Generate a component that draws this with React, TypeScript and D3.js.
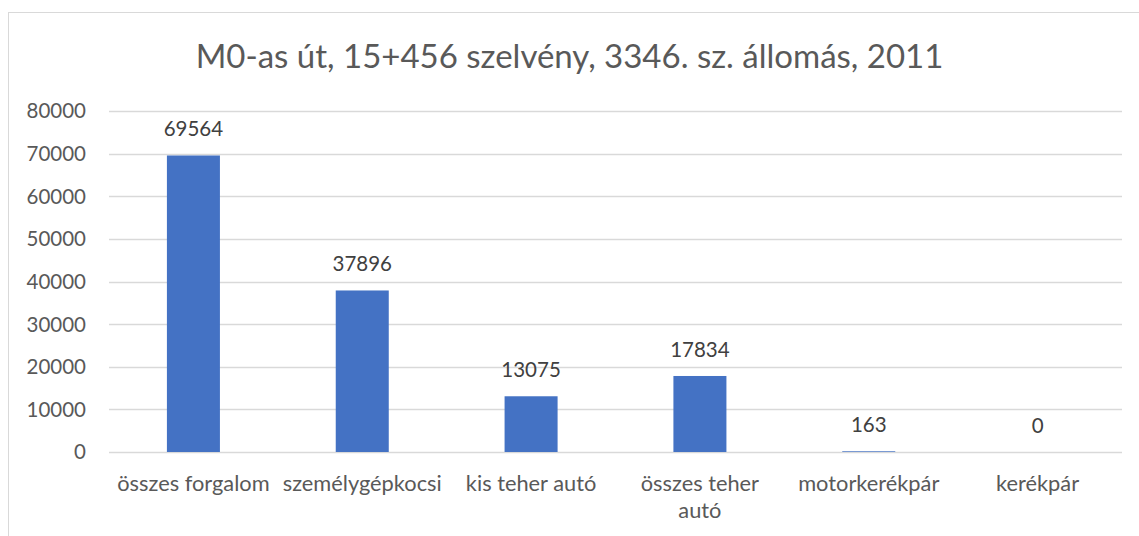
import React, { useEffect, useRef } from 'react';
import * as d3 from 'd3';

const categories = [
  'összes forgalom',
  'személygépkocsi',
  'kis teher autó',
  'összes teher autó',
  'motorkerékpár',
  'kerékpár',
];
const values = [69564, 37896, 13075, 17834, 163, 0];
const yTicks = [0, 10000, 20000, 30000, 40000, 50000, 60000, 70000, 80000];
const title = 'M0-as út, 15+456 szelvény, 3346. sz. állomás, 2011';

const App: React.FC = () => {
  const svgRef = useRef<SVGSVGElement | null>(null);

  useEffect(() => {
    const width = 1139;
    const height = 536;
    const margin = { top: 111, right: 17, bottom: 84, left: 109 };
    const font = 'Lato, "Open Sans", sans-serif';

    const svg = d3.select(svgRef.current)
      .attr('width', width)
      .attr('height', height);

    svg.selectAll('*').remove();

    // chart area border
    svg.append('rect')
      .attr('x', 8.5)
      .attr('y', 12.5)
      .attr('width', width)
      .attr('height', height)
      .attr('fill', '#fff')
      .attr('stroke', '#d9d9d9');

    const xScale = d3.scaleBand<string>()
      .domain(categories)
      .range([margin.left, width - margin.right])
      .paddingInner(0.686)
      .paddingOuter(0.343);

    const yScale = d3.scaleLinear()
      .domain([0, 80000])
      .range([height - margin.bottom, margin.top]);

    // title
    svg.append('text')
      .attr('x', width / 2)
      .attr('y', 68)
      .attr('text-anchor', 'middle')
      .attr('font-family', font)
      .attr('font-size', 33)
      .attr('fill', '#595959')
      .text(title);

    // gridlines
    svg.append('g')
      .selectAll('line')
      .data(yTicks)
      .join('line')
      .attr('x1', margin.left)
      .attr('x2', width - margin.right)
      .attr('y1', d => Math.round(yScale(d)) + 0.5)
      .attr('y2', d => Math.round(yScale(d)) + 0.5)
      .attr('stroke', '#d9d9d9')
      .attr('stroke-width', 1.3);

    // y axis labels
    svg.append('g')
      .selectAll('text')
      .data(yTicks)
      .join('text')
      .attr('x', 86)
      .attr('y', d => yScale(d))
      .attr('dy', '0.36em')
      .attr('text-anchor', 'end')
      .attr('font-family', font)
      .attr('font-size', 20.5)
      .attr('fill', '#595959')
      .text(d => String(d));

    const data = categories.map((c, i) => ({ c, v: values[i] }));

    // bars
    svg.append('g')
      .selectAll('rect')
      .data(data)
      .join('rect')
      .attr('x', d => xScale(d.c) as number)
      .attr('width', xScale.bandwidth())
      .attr('y', d => yScale(d.v))
      .attr('height', d => yScale(0) - yScale(d.v))
      .attr('fill', '#4472c4');

    // data labels
    svg.append('g')
      .selectAll('text')
      .data(data)
      .join('text')
      .attr('x', d => (xScale(d.c) as number) + xScale.bandwidth() / 2)
      .attr('y', d => yScale(d.v) - 19)
      .attr('text-anchor', 'middle')
      .attr('font-family', font)
      .attr('font-size', 20.5)
      .attr('fill', '#404040')
      .text(d => String(d.v));

    // category labels, wrapped when wider than the band
    const maxWidth = xScale.step() - 6;
    const labels = svg.append('g')
      .selectAll('text')
      .data(categories)
      .join('text')
      .attr('x', d => (xScale(d) as number) + xScale.bandwidth() / 2)
      .attr('y', 491)
      .attr('text-anchor', 'middle')
      .attr('font-family', font)
      .attr('font-size', 21.8)
      .attr('fill', '#595959');

    labels.each(function (d) {
      const text = d3.select(this);
      const x = text.attr('x');
      const words = d.split(' ');
      let line: string[] = [];
      let tspan = text.append('tspan').attr('x', x).attr('dy', 0);
      words.forEach(w => {
        line.push(w);
        tspan.text(line.join(' '));
        const node = tspan.node() as SVGTextContentElement;
        if (node.getComputedTextLength() > maxWidth && line.length > 1) {
          line.pop();
          tspan.text(line.join(' '));
          line = [w];
          tspan = text.append('tspan').attr('x', x).attr('dy', 27).text(w);
        }
      });
    });
  }, []);

  return (
    <svg ref={svgRef} style={{ position: 'absolute', left: 0, top: 0 }}></svg>
  );
};

export default App;
